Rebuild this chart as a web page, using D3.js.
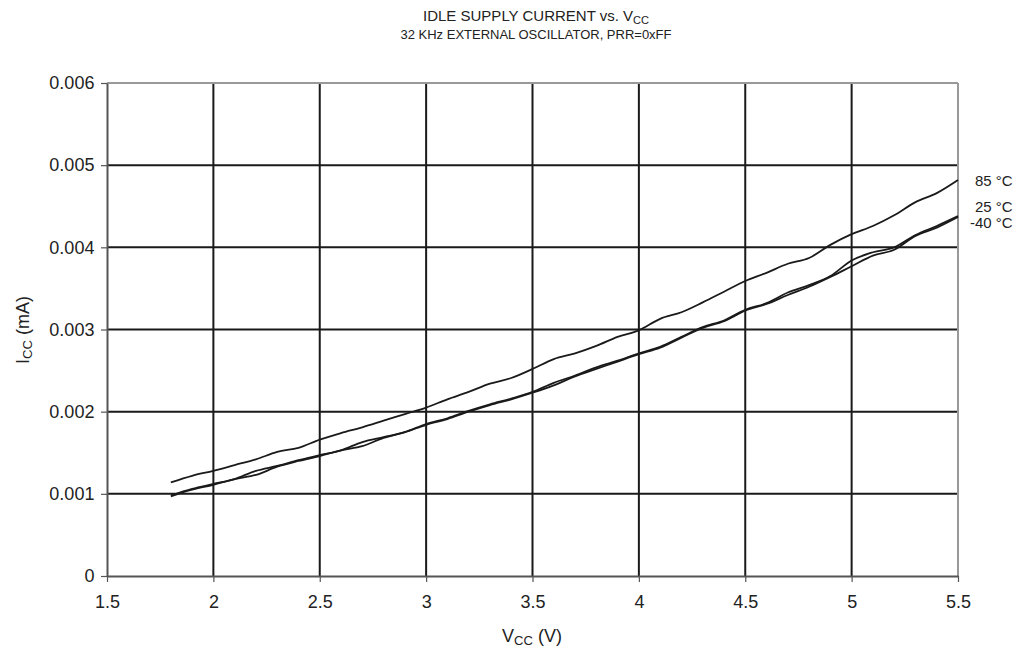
<!DOCTYPE html>
<html><head><meta charset="utf-8">
<script src="https://cdn.jsdelivr.net/npm/d3@7"></script>
<style>body{margin:0;background:#fff}svg{font-family:"Liberation Sans",Arial,sans-serif}</style>
</head><body><svg id="c" width="1029" height="652"></svg>
<script>
const vcc = [1.8,1.9,2.0,2.1,2.2,2.3,2.4,2.5,2.6,2.7,2.8,2.9,3.0,3.1,3.2,3.3,3.4,3.5,3.6,3.7,3.8,3.9,4.0,4.1,4.2,4.3,4.4,4.5,4.6,4.7,4.8,4.9,5.0,5.1,5.2,5.3,5.4,5.5];
const i85 = [0.00114,0.00122,0.00128,0.00135,0.00142,0.00151,0.00156,0.00166,0.00174,0.00181,0.00189,0.00197,0.00205,0.00215,0.00224,0.00234,0.00241,0.00252,0.00264,0.00271,0.00280,0.00291,0.00299,0.00313,0.00321,0.00333,0.00346,0.00359,0.00369,0.00380,0.00387,0.00403,0.00416,0.00426,0.00439,0.00455,0.00466,0.00482];
const i25 = [0.00098,0.00106,0.00112,0.00118,0.00128,0.00134,0.00141,0.00147,0.00153,0.00163,0.00169,0.00175,0.00185,0.00192,0.00201,0.00209,0.00216,0.00224,0.00235,0.00244,0.00254,0.00262,0.00271,0.00279,0.00291,0.00303,0.00311,0.00324,0.00332,0.00345,0.00354,0.00365,0.00384,0.00394,0.00400,0.00415,0.00426,0.00438];
const im40 = [0.00097,0.00105,0.00111,0.00118,0.00123,0.00133,0.00140,0.00146,0.00153,0.00158,0.00168,0.00175,0.00184,0.00191,0.00200,0.00208,0.00215,0.00223,0.00232,0.00243,0.00252,0.00261,0.00270,0.00278,0.00290,0.00302,0.00310,0.00323,0.00331,0.00342,0.00352,0.00364,0.00377,0.00390,0.00397,0.00414,0.00424,0.00437];
const xTicks = [1.5,2,2.5,3,3.5,4,4.5,5,5.5];
const yTicks = [0,0.001,0.002,0.003,0.004,0.005,0.006];
const seriesLabels = ["85 °C","25 °C","-40 °C"];

const svg = d3.select("#c");
const L=107,R=958,T=83,B=576;
const x = d3.scaleLinear().domain([1.5,5.5]).range([L,R]);
const y = d3.scaleLinear().domain([0,0.006]).range([B,T]);

// grid
svg.append("g").selectAll("line").data(yTicks.slice(1,-1)).join("line")
  .attr("x1",L).attr("x2",R).attr("y1",d=>y(d)).attr("y2",d=>y(d))
  .attr("stroke","#1a1a1a").attr("stroke-width",2);
svg.append("g").selectAll("line").data(xTicks.slice(1,-1)).join("line")
  .attr("y1",T).attr("y2",B).attr("x1",d=>x(d)).attr("x2",d=>x(d))
  .attr("stroke","#1a1a1a").attr("stroke-width",2);
// frame top/right
svg.append("line").attr("x1",L).attr("x2",R).attr("y1",T).attr("y2",T).attr("stroke","#999").attr("stroke-width",2);
svg.append("line").attr("x1",R).attr("x2",R).attr("y1",T).attr("y2",B).attr("stroke","#999").attr("stroke-width",2);

// axes
const xa = svg.append("g").attr("transform",`translate(0,${B})`)
  .call(d3.axisBottom(x).tickValues(xTicks).tickFormat(d3.format("")).tickSize(6).tickSizeOuter(0));
const ya = svg.append("g").attr("transform",`translate(${L},0)`)
  .call(d3.axisLeft(y).tickValues(yTicks).tickFormat(d=>d===0?"0":d3.format(".3f")(d)).tickSize(6).tickSizeOuter(0));
[xa,ya].forEach(a=>{
  a.select(".domain").attr("stroke","#555").attr("stroke-width",2);
  a.selectAll(".tick line").attr("stroke","#555").attr("stroke-width",1.2);
  a.selectAll("text").attr("font-size",18).attr("fill","#222").attr("font-family","Liberation Sans, Arial, sans-serif");
});
xa.selectAll("text").attr("dy","1.3em");
ya.selectAll("text").attr("dx","-0.2em");

// lines
const line = d3.line().x((d,i)=>x(vcc[i])).y(d=>y(d)).curve(d3.curveMonotoneX);
[i85,i25,im40].forEach(s=>{
  svg.append("path").attr("d",line(s)).attr("fill","none").attr("stroke","#1a1a1a").attr("stroke-width",1.8);
});

// series labels
const lab = svg.append("g").attr("font-size",15).attr("fill","#222");
lab.append("text").attr("x",975).attr("y",186).text(seriesLabels[0]);
lab.append("text").attr("x",975).attr("y",212).text(seriesLabels[1]);
lab.append("text").attr("x",970).attr("y",228).text(seriesLabels[2]);

// titles
const t = svg.append("text").attr("x",536).attr("y",21).attr("text-anchor","middle").attr("font-size",15).attr("fill","#222");
t.append("tspan").text("IDLE SUPPLY CURRENT vs. V");
t.append("tspan").attr("font-size",11).attr("dy",3).text("CC");
svg.append("text").attr("x",536).attr("y",39).attr("text-anchor","middle").attr("font-size",13).attr("fill","#222")
  .text("32 KHz EXTERNAL OSCILLATOR, PRR=0xFF");

// axis titles
const xt = svg.append("text").attr("x",532).attr("y",642).attr("text-anchor","middle").attr("font-size",18).attr("fill","#222");
xt.append("tspan").text("V");
xt.append("tspan").attr("font-size",13).attr("dy",3).text("CC");
xt.append("tspan").attr("dy",-3).text(" (V)");
const yt = svg.append("text").attr("transform","translate(29,330) rotate(-90)").attr("text-anchor","middle").attr("font-size",18).attr("fill","#222");
yt.append("tspan").text("I");
yt.append("tspan").attr("font-size",13).attr("dy",3).text("CC");
yt.append("tspan").attr("dy",-3).text(" (mA)");
</script></body></html>
